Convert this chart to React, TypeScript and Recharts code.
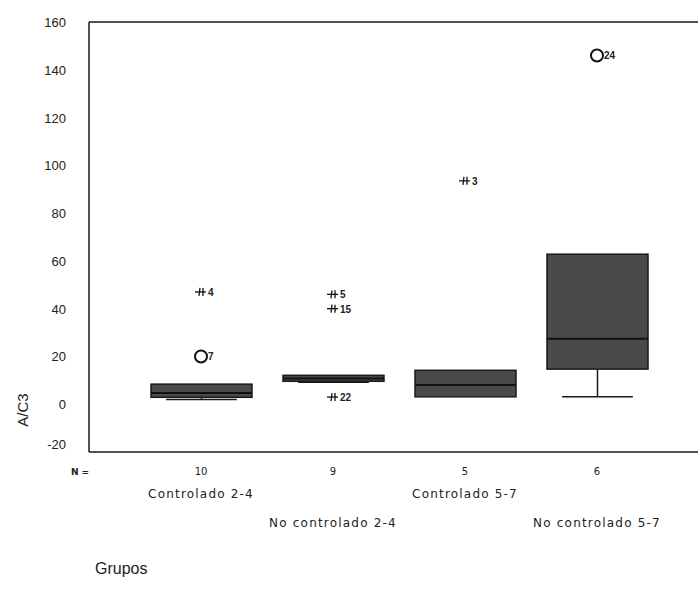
import React from 'react';
import { ComposedChart, Bar, Scatter, XAxis, YAxis, ReferenceLine } from 'recharts';

// Boxplot A/C3 por grupo
const groups = ['Controlado 2-4', 'No controlado 2-4', 'Controlado 5-7', 'No controlado 5-7'];
const nCounts = [10, 9, 5, 6];
const q1 = [2.9, 9.6, 3.1, 14.7];
const medians = [4.7, 10.8, 8.0, 27.4];
const q3 = [8.4, 12.1, 14.2, 62.8];
const whiskerLow = [2.0, 9.2, 3.1, 3.1];
const whiskerHigh = [8.4, 12.1, 14.2, 62.8];

// outliers: o = atípico, e = extremo
const outlierGroup = [0, 0, 1, 1, 1, 2, 3];
const outlierValue = [47, 20, 46, 40, 3, 93.5, 146];
const outlierId = ['4', '7', '5', '15', '22', '3', '24'];
const outlierKind = ['e', 'o', 'e', 'e', 'e', 'e', 'o'];

const yTicks = [-20, 0, 20, 40, 60, 80, 100, 120, 140, 160];

const boxData = groups.map((name, i) => ({
  name,
  n: nCounts[i],
  box: [q1[i], q3[i]],
  q1: q1[i],
  q3: q3[i],
  median: medians[i],
  lo: whiskerLow[i],
  hi: whiskerHigh[i],
}));

const outliers = outlierValue.map((value, i) => ({
  name: groups[outlierGroup[i]],
  value,
  id: outlierId[i],
  kind: outlierKind[i],
}));

const LINE = '#1a1a1a';

const BoxShape = (props: any) => {
  const { x, y, width, height, payload } = props;
  const unit = height / (payload.q3 - payload.q1);
  const yOf = (v: number) => y + (payload.q3 - v) * unit;
  const cx = x + width / 2;
  const cap = width * 0.35;
  const yHi = yOf(payload.hi);
  const yLo = yOf(payload.lo);
  const yMed = yOf(payload.median);
  return (
    <g>
      {yHi < y - 0.5 && (
        <>
          <line x1={cx} x2={cx} y1={yHi} y2={y} stroke={LINE} strokeWidth={1.5} />
          <line x1={cx - cap} x2={cx + cap} y1={yHi} y2={yHi} stroke={LINE} strokeWidth={1.5} />
        </>
      )}
      {yLo > y + height + 0.5 && (
        <>
          <line x1={cx} x2={cx} y1={y + height} y2={yLo} stroke={LINE} strokeWidth={1.5} />
          <line x1={cx - cap} x2={cx + cap} y1={yLo} y2={yLo} stroke={LINE} strokeWidth={1.5} />
        </>
      )}
      <rect x={x} y={y} width={width} height={height} fill="#4a4a4a" stroke={LINE} strokeWidth={1.5} />
      <line x1={x} x2={x + width} y1={yMed} y2={yMed} stroke="#111" strokeWidth={2} />
    </g>
  );
};

const OutlierShape = (props: any) => {
  const { cx, cy, payload } = props;
  if (cx == null || cy == null) return null;
  return (
    <g>
      {payload.kind === 'o' ? (
        <circle cx={cx} cy={cy} r={6} fill="#fff" stroke="#111" strokeWidth={2} />
      ) : (
        <g stroke="#111" strokeWidth={1.3}>
          <line x1={cx - 6} x2={cx + 5} y1={cy} y2={cy} />
          <line x1={cx - 1} x2={cx - 2} y1={cy - 4} y2={cy + 4} />
          <line x1={cx + 2} x2={cx + 2} y1={cy - 4} y2={cy + 4} />
        </g>
      )}
      <text
        x={cx + 7}
        y={cy + 4}
        fontSize={10}
        fontWeight="bold"
        fontFamily="'Liberation Sans', Arial, sans-serif"
        fill="#222"
      >
        {payload.id}
      </text>
    </g>
  );
};

const GroupTick = (props: any) => {
  const { x, y, payload, index } = props;
  const i = groups.indexOf(payload.value);
  const row = i % 2 === 0 ? 0 : 1;
  return (
    <g fontFamily="'DejaVu Sans', 'Liberation Sans', sans-serif" fill="#222">
      {index === 0 && (
        <text x={x - 121} y={y + 23} textAnchor="middle" fontSize={9} fontWeight="bold">
          N =
        </text>
      )}
      <text x={x} y={y + 23} textAnchor="middle" fontSize={10}>
        {nCounts[i]}
      </text>
      <text
        x={x}
        y={y + (row === 0 ? 46 : 75)}
        textAnchor="middle"
        fontSize={12}
        letterSpacing={1.2}
      >
        {payload.value}
      </text>
    </g>
  );
};

const ValueTick = (props: any) => {
  const { x, y, payload } = props;
  const shift = payload.value === -20 ? -8 : 0;
  return (
    <text
      x={x}
      y={y + shift}
      dy={5}
      textAnchor="end"
      fontSize={13}
      fontFamily="'Liberation Sans', Arial, sans-serif"
      fill="#222"
    >
      {payload.value}
    </text>
  );
};

export default function App() {
  return (
    <div style={{ position: 'relative', width: 698, height: 590, background: '#fff' }}>
      <style>{`body{margin:0;}`}</style>
      <ComposedChart
        width={698}
        height={590}
        data={boxData}
        margin={{ top: 22, right: 0, left: 0, bottom: 0 }}
      >
        <XAxis
          dataKey="name"
          type="category"
          allowDuplicatedCategory={false}
          height={138}
          padding={{ left: 46, right: 35 }}
          tickLine={false}
          tickSize={0}
          tickMargin={0}
          axisLine={{ stroke: LINE, strokeWidth: 1.5 }}
          tick={<GroupTick />}
          interval={0}
        />
        <YAxis
          type="number"
          domain={[-20, 160]}
          ticks={yTicks}
          width={89}
          tickLine={false}
          tickSize={0}
          tickMargin={23}
          axisLine={{ stroke: LINE, strokeWidth: 1.5 }}
          tick={<ValueTick />}
          allowDataOverflow
        />
        <ReferenceLine y={160} stroke={LINE} strokeWidth={1.5} />
        <Bar dataKey="box" barSize={101} shape={<BoxShape />} isAnimationActive={false} />
        <Scatter data={outliers} dataKey="value" shape={<OutlierShape />} isAnimationActive={false} />
      </ComposedChart>
      <div
        style={{
          position: 'absolute',
          left: 22,
          top: 410,
          transform: 'translate(-50%, -50%) rotate(-90deg)',
          fontFamily: "'Liberation Sans', Arial, sans-serif",
          fontSize: 15,
          color: '#222',
          whiteSpace: 'nowrap',
        }}
      >
        A/C3
      </div>
      <div
        style={{
          position: 'absolute',
          left: 95,
          top: 560,
          fontFamily: "'Liberation Sans', Arial, sans-serif",
          fontSize: 16,
          color: '#222',
        }}
      >
        Grupos
      </div>
    </div>
  );
}
